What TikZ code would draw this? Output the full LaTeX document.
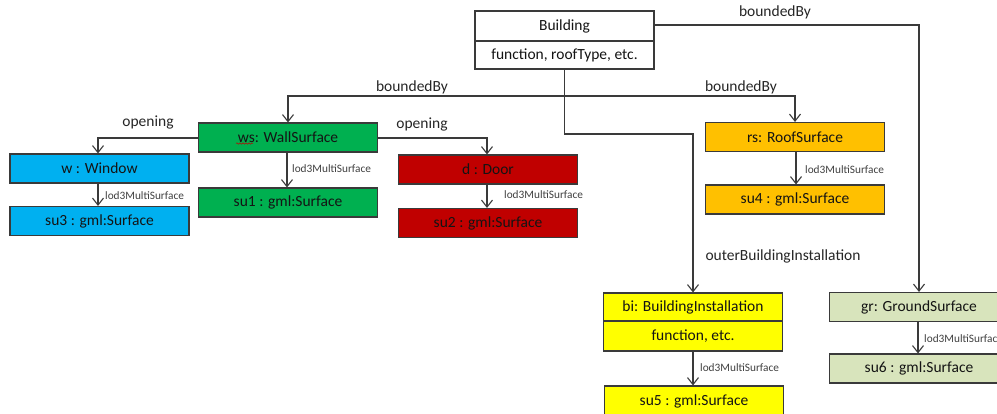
\documentclass[tikz,border=0pt]{standalone}
\usepackage{fontspec}
\setmainfont{Carlito}
\usetikzlibrary{arrows.meta,decorations.pathmorphing}
\definecolor{ink}{HTML}{3A3A3A}
\definecolor{winblue}{HTML}{00B0F0}
\definecolor{wallgreen}{HTML}{00B050}
\definecolor{doorred}{HTML}{C00000}
\definecolor{rooforange}{HTML}{FFC000}
\definecolor{instyellow}{HTML}{FFFF00}
\definecolor{groundgreen}{HTML}{D8E4BC}
\tikzset{
  cls/.style={draw=ink, line width=1.1pt, minimum width=179pt, minimum height=29pt,
    inner sep=0pt, font=\fontsize{15.5}{18}\selectfont, text=black!92},
  rel/.style={draw=ink, line width=1.1pt, -{Straight Barb[length=7pt,width=11pt,line width=1.1pt]}},
  plain/.style={draw=ink, line width=1.1pt},
  rolelbl/.style={font=\fontsize{15.5}{18}\selectfont, text=black!85, inner sep=0pt},
  lodlbl/.style={font=\fontsize{11.3}{13}\selectfont, text=black!75, inner sep=0pt, anchor=west},
}
\begin{document}
\begin{tikzpicture}[x=1pt,y=-1pt]
\useasboundingbox (0,0) rectangle (997,414);
\clip (0,0) rectangle (997,414);
\fill[white] (0,0) rectangle (997,414);

% Building with its attribute compartment
\node[cls, minimum height=30pt] (bTop) at (564.5,26) {Building};
\node[cls, minimum height=28pt] (bBot) at (564.5,55) {function, roofType, etc.};

% boundary surfaces and openings
\node[cls, fill=wallgreen] (ws) at (288,137.5) {ws: WallSurface};
\node[cls, fill=wallgreen] (su1) at (288,202.5) {su1 : gml:Surface};
\node[cls, fill=winblue] (win) at (99.5,168.5) {w : Window};
\node[cls, fill=winblue] (su3) at (99.5,221) {su3 : gml:Surface};
\node[cls, fill=doorred] (door) at (488,169.5) {d : Door};
\node[cls, fill=doorred] (su2) at (488,223) {su2 : gml:Surface};
\node[cls, fill=rooforange] (rs) at (795,137) {rs: RoofSurface};
\node[cls, fill=rooforange] (su4) at (795,199.5) {su4 : gml:Surface};
\node[cls, fill=groundgreen] (gr) at (919,307) {gr: GroundSurface};
\node[cls, fill=groundgreen] (su6) at (919,368.5) {su6 : gml:Surface};

% building installation with its attribute compartment
\node[cls, fill=instyellow, minimum height=28pt] (biTop) at (693,307) {bi: BuildingInstallation};
\node[cls, fill=instyellow, minimum height=30pt] (biBot) at (693,336) {function, etc.};
\node[cls, fill=instyellow, minimum height=30pt] (su5) at (694,401) {su5 : gml:Surface};

% spell-check squiggle under the "ws" prefix
\coordinate (sq1) at (236,143.5);
\coordinate (sq2) at (253,143.5);
\draw[red!75!black, line width=0.5pt, decorate,
  decoration={snake, amplitude=0.7pt, segment length=3pt}] (sq1) -- (sq2);

% junction points of the boundedBy / installation tree
\coordinate (j1) at (564.5,96);
\coordinate (j2) at (564.5,134);

\draw[plain] (bBot.south) -- (j1);
\draw[rel] (j1) -| (ws.north);
\draw[rel] (j1) -| (rs.north);
\draw[rel] (j1) -- (j2) -| (biTop.north);
\draw[rel] (bTop.east |- 0,25) -| (gr.north);

\draw[rel] (ws.west |- 0,138) -| ([xshift=-1.5pt]win.north);
\draw[rel] (ws.east |- 0,138) -| ([xshift=-1pt]door.north);

% geometry associations
\draw[rel] ([xshift=-1pt]ws.south) -- ([xshift=-1pt]su1.north);
\draw[rel] ([xshift=-1.5pt]win.south) -- ([xshift=-1.5pt]su3.north);
\draw[rel] ([xshift=-1pt]door.south) -- ([xshift=-1pt]su2.north);
\draw[rel] ([xshift=1pt]rs.south) -- ([xshift=1pt]rs.south |- su4.north);
\draw[rel] (biBot.south) -- (biBot.south |- su5.north);
\draw[rel] ([xshift=-1pt]gr.south) -- ([xshift=-1pt]su6.north);

% role names
\node[rolelbl] (l1) at (775,12) {boundedBy};
\node[rolelbl] (l2) at (412,87) {boundedBy};
\node[rolelbl] (l3) at (741,87) {boundedBy};
\node[rolelbl] (l4) at (148,123) {opening};
\node[rolelbl] (l5) at (422,125) {opening};
\node[rolelbl] (l6) at (783,256) {outerBuildingInstallation};

\node[lodlbl] (m1) at (292,169) {lod3MultiSurface};
\node[lodlbl] (m2) at (105,196) {lod3MultiSurface};
\node[lodlbl] (m3) at (504,195) {lod3MultiSurface};
\node[lodlbl] (m4) at (805,170) {lod3MultiSurface};
\node[lodlbl] (m5) at (700,368) {lod3MultiSurface};
\node[lodlbl] (m6) at (924,339) {lod3MultiSurface};
\end{tikzpicture}
\end{document}
